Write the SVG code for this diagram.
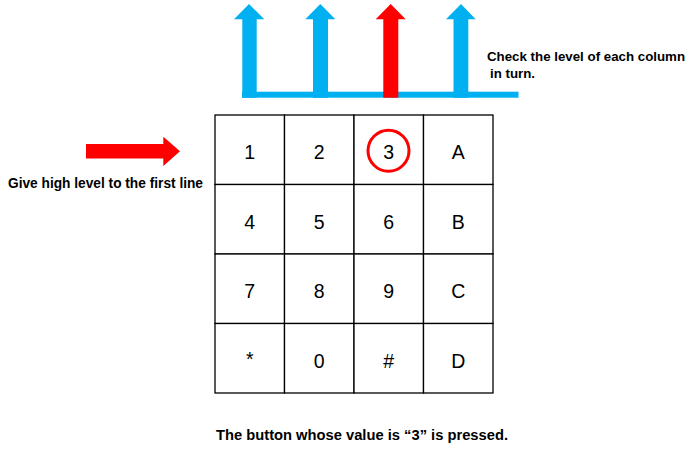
<svg xmlns="http://www.w3.org/2000/svg" width="691" height="456" viewBox="0 0 691 456">
<style>
.cell{fill:#fff;stroke:#000;stroke-width:1.3}
.key{font-family:"Liberation Sans",Arial,sans-serif;font-size:19.5px;fill:#000;text-anchor:middle}
.lbl{font-family:"Liberation Sans",Arial,sans-serif;font-weight:bold;font-size:14.5px;fill:#000}
.lbl2{font-family:"Liberation Sans",Arial,sans-serif;font-weight:bold;font-size:13.3px;fill:#000}
.blue{fill:#00B0F0}
.red{fill:#FF0000}
</style>
<rect width="691" height="456" fill="#fff"/>
<g id="connectors">
  <rect class="blue" x="242" y="91.7" width="276.5" height="6"/>
  <polygon class="blue" points="242.3,97.7 242.3,19.3 234,19.3 249,4 264.3,19.3 256.7,19.3 256.7,97.7"/>
  <polygon class="blue" points="313,97.7 313,19.3 305.3,19.3 320.3,4 335.3,19.3 328,19.3 328,97.7"/>
  <polygon class="red" points="383.3,97.7 383.3,19.3 375.7,19.3 390.7,4 405.7,19.3 398.3,19.3 398.3,97.7"/>
  <polygon class="blue" points="453.5,97.7 453.5,19.3 446,19.3 461,4 475.7,19.3 468.3,19.3 468.3,97.7"/>
  <polygon class="red" points="86,144 163.3,144 163.3,136.7 180,151.3 163.3,166 163.3,158.5 86,158.5"/>
</g>
<g id="keypad">
  <g id="k1"><rect class="cell" x="215" y="115" width="69.5" height="69.5"/><text class="key" x="249.8" y="159">1</text></g>
  <g id="k2"><rect class="cell" x="284.5" y="115" width="69.5" height="69.5"/><text class="key" x="319.3" y="159">2</text></g>
  <g id="k3"><rect class="cell" x="354" y="115" width="69.5" height="69.5"/><text class="key" x="388.8" y="159">3</text><circle cx="388.5" cy="150.7" r="20.5" fill="none" stroke="#FF0000" stroke-width="3"/></g>
  <g id="kA"><rect class="cell" x="423.5" y="115" width="69.5" height="69.5"/><text class="key" x="458.3" y="159">A</text></g>
  <g id="k4"><rect class="cell" x="215" y="184.5" width="69.5" height="69.5"/><text class="key" x="249.8" y="228.5">4</text></g>
  <g id="k5"><rect class="cell" x="284.5" y="184.5" width="69.5" height="69.5"/><text class="key" x="319.3" y="228.5">5</text></g>
  <g id="k6"><rect class="cell" x="354" y="184.5" width="69.5" height="69.5"/><text class="key" x="388.8" y="228.5">6</text></g>
  <g id="kB"><rect class="cell" x="423.5" y="184.5" width="69.5" height="69.5"/><text class="key" x="458.3" y="228.5">B</text></g>
  <g id="k7"><rect class="cell" x="215" y="254" width="69.5" height="69.5"/><text class="key" x="249.8" y="298">7</text></g>
  <g id="k8"><rect class="cell" x="284.5" y="254" width="69.5" height="69.5"/><text class="key" x="319.3" y="298">8</text></g>
  <g id="k9"><rect class="cell" x="354" y="254" width="69.5" height="69.5"/><text class="key" x="388.8" y="298">9</text></g>
  <g id="kC"><rect class="cell" x="423.5" y="254" width="69.5" height="69.5"/><text class="key" x="458.3" y="298">C</text></g>
  <g id="kstar"><rect class="cell" x="215" y="323.5" width="69.5" height="69.5"/><text class="key" x="249.8" y="366">*</text></g>
  <g id="k0"><rect class="cell" x="284.5" y="323.5" width="69.5" height="69.5"/><text class="key" x="319.3" y="367.5">0</text></g>
  <g id="khash"><rect class="cell" x="354" y="323.5" width="69.5" height="69.5"/><text class="key" x="388.8" y="367.5">#</text></g>
  <g id="kD"><rect class="cell" x="423.5" y="323.5" width="69.5" height="69.5"/><text class="key" x="458.3" y="367.5">D</text></g>
</g>
<g id="labels">
  <text class="lbl" x="8" y="188" textLength="195" lengthAdjust="spacingAndGlyphs">Give high level to the first line</text>
  <text class="lbl2" x="487" y="61">Check the level of each column</text>
  <text class="lbl2" x="490" y="78">in turn.</text>
  <text class="lbl" x="216" y="440" textLength="292" lengthAdjust="spacingAndGlyphs">The button whose value is “3” is pressed.</text>
</g>
</svg>
